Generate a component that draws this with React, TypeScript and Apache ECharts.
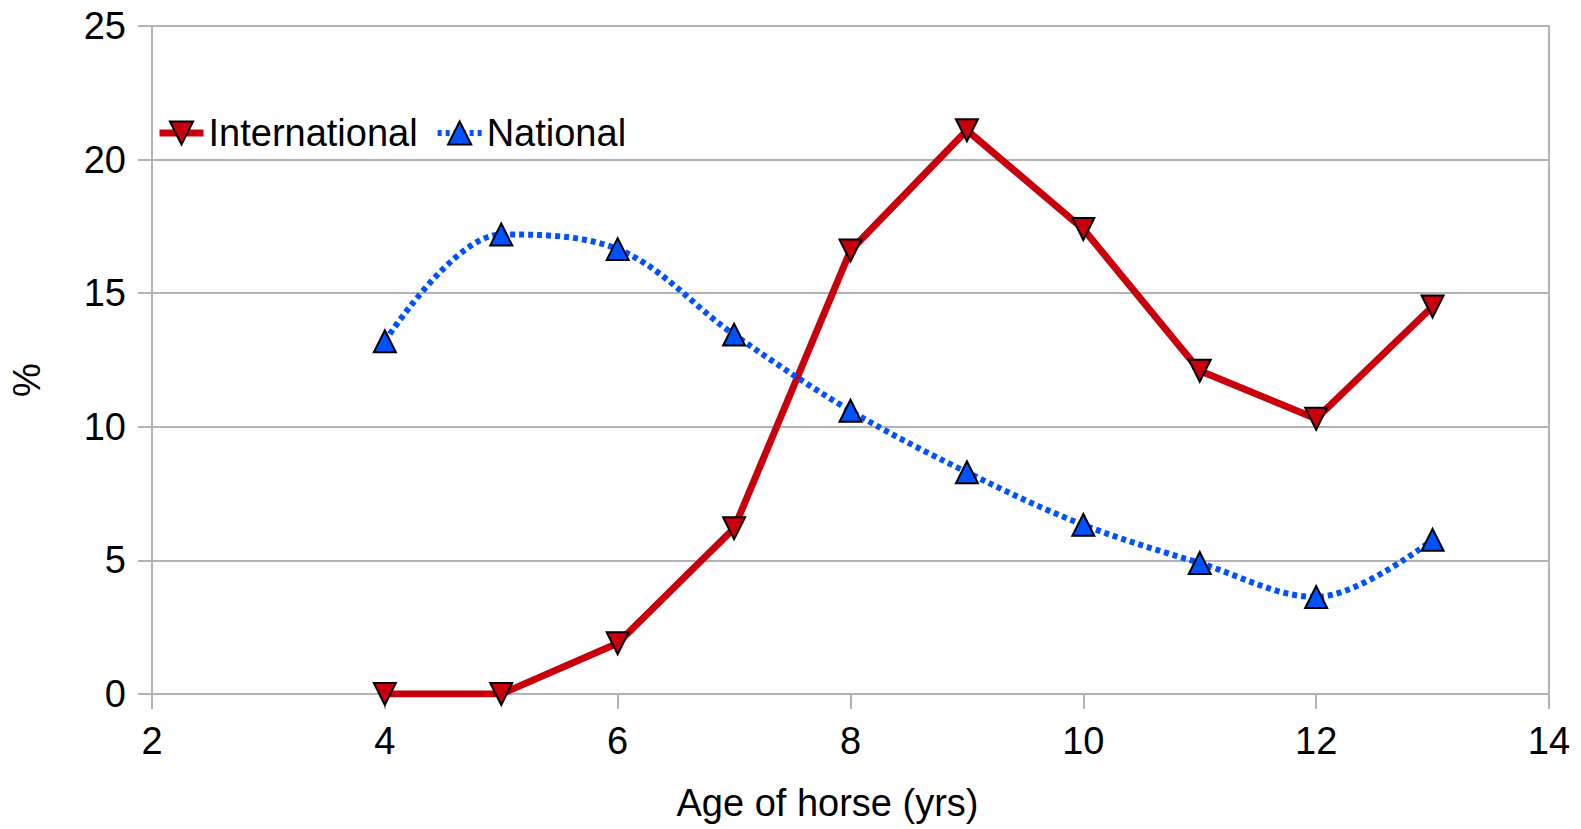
import React, { useEffect, useRef } from "react";
import * as echarts from "echarts";

const ages = [4, 5, 6, 7, 8, 9, 10, 11, 12, 13];
const international = [0, 0, 1.9, 6.2, 16.6, 21.1, 17.4, 12.1, 10.3, 14.5];
const national = [13.2, 17.2, 16.65, 13.45, 10.6, 8.3, 6.33, 4.9, 3.63, 5.77];
const xTicks = [2, 4, 6, 8, 10, 12, 14];
const yTicks = [0, 5, 10, 15, 20, 25];

const FONT = "Liberation Sans";
const GRID = "#b3b3b3";
const RED = "#c9000b";
const BLUE = "#0052ff";

export default function App() {
  const ref = useRef<HTMLDivElement>(null);
  useEffect(() => {
    if (!ref.current) return;
    const chart = echarts.init(ref.current, null, { renderer: "svg" });
    const downTri = "path://M0,0 L20,0 L10,20 Z";
    chart.setOption({
      animation: false,
      backgroundColor: "#ffffff",
      textStyle: { fontFamily: FONT, color: "#000" },
      grid: { left: 152, right: 32, top: 26, bottom: 135 },
      legend: {
        left: 151,
        top: 109,
        itemWidth: 44,
        itemHeight: 29,
        itemGap: 17,
        textStyle: { fontFamily: FONT, fontSize: 38, color: "#000" },
        data: [
          { name: "International", lineStyle: { width: 7, color: RED } },
          { name: "National", lineStyle: { width: 6, color: BLUE, type: [4, 4] } },
        ],
      },
      xAxis: {
        type: "value",
        min: xTicks[0],
        max: xTicks[xTicks.length - 1],
        interval: 2,
        name: "Age of horse (yrs)",
        nameLocation: "middle",
        nameGap: 90,
        nameTextStyle: { fontFamily: FONT, fontSize: 38, color: "#000", padding: [0, 46, 0, 0] },
        axisLine: { show: true, lineStyle: { color: GRID, width: 2 } },
        axisTick: { show: true, length: 15, lineStyle: { color: GRID, width: 2 } },
        axisLabel: { fontFamily: FONT, fontSize: 38, color: "#000", margin: 28 },
        splitLine: { show: false },
      },
      yAxis: [
        {
          type: "value",
          min: yTicks[0],
          max: yTicks[yTicks.length - 1],
          interval: 5,
          name: "%",
          nameLocation: "middle",
          nameGap: 106,
          nameTextStyle: { fontFamily: FONT, fontSize: 38, color: "#000", padding: [0, 40, 0, 0] },
          axisLine: { show: true, lineStyle: { color: GRID, width: 2 } },
          axisTick: { show: true, length: 14, lineStyle: { color: GRID, width: 2 } },
          axisLabel: { fontFamily: FONT, fontSize: 38, color: "#000", margin: 26 },
          splitLine: { show: true, lineStyle: { color: GRID, width: 2 } },
        },
        {
          type: "value",
          position: "right",
          min: yTicks[0],
          max: yTicks[yTicks.length - 1],
          interval: 5,
          axisLine: { show: true, lineStyle: { color: GRID, width: 2 } },
          axisTick: { show: false },
          axisLabel: { show: false },
          splitLine: { show: false },
        },
      ],
      series: [
        {
          name: "International",
          type: "line",
          data: ages.map((a, i) => [a, international[i]]),
          symbol: downTri,
          symbolSize: [22, 22],
          color: RED,
          lineStyle: { color: RED, width: 7 },
          itemStyle: { color: RED, borderColor: "#000", borderWidth: 2 },
          z: 2,
        },
        {
          name: "National",
          type: "line",
          smooth: 0.35,
          data: ages.map((a, i) => [a, national[i]]),
          symbol: "triangle",
          symbolSize: [22, 22],
          color: BLUE,
          lineStyle: { color: BLUE, width: 6, type: [5, 4] },
          itemStyle: { color: BLUE, borderColor: "#000", borderWidth: 2 },
          z: 3,
        },
      ],
    });
    return () => chart.dispose();
  }, []);
  return (
    <div
      ref={ref}
      style={{ position: "fixed", left: 0, top: 0, width: 1581, height: 829 }}
    />
  );
}
